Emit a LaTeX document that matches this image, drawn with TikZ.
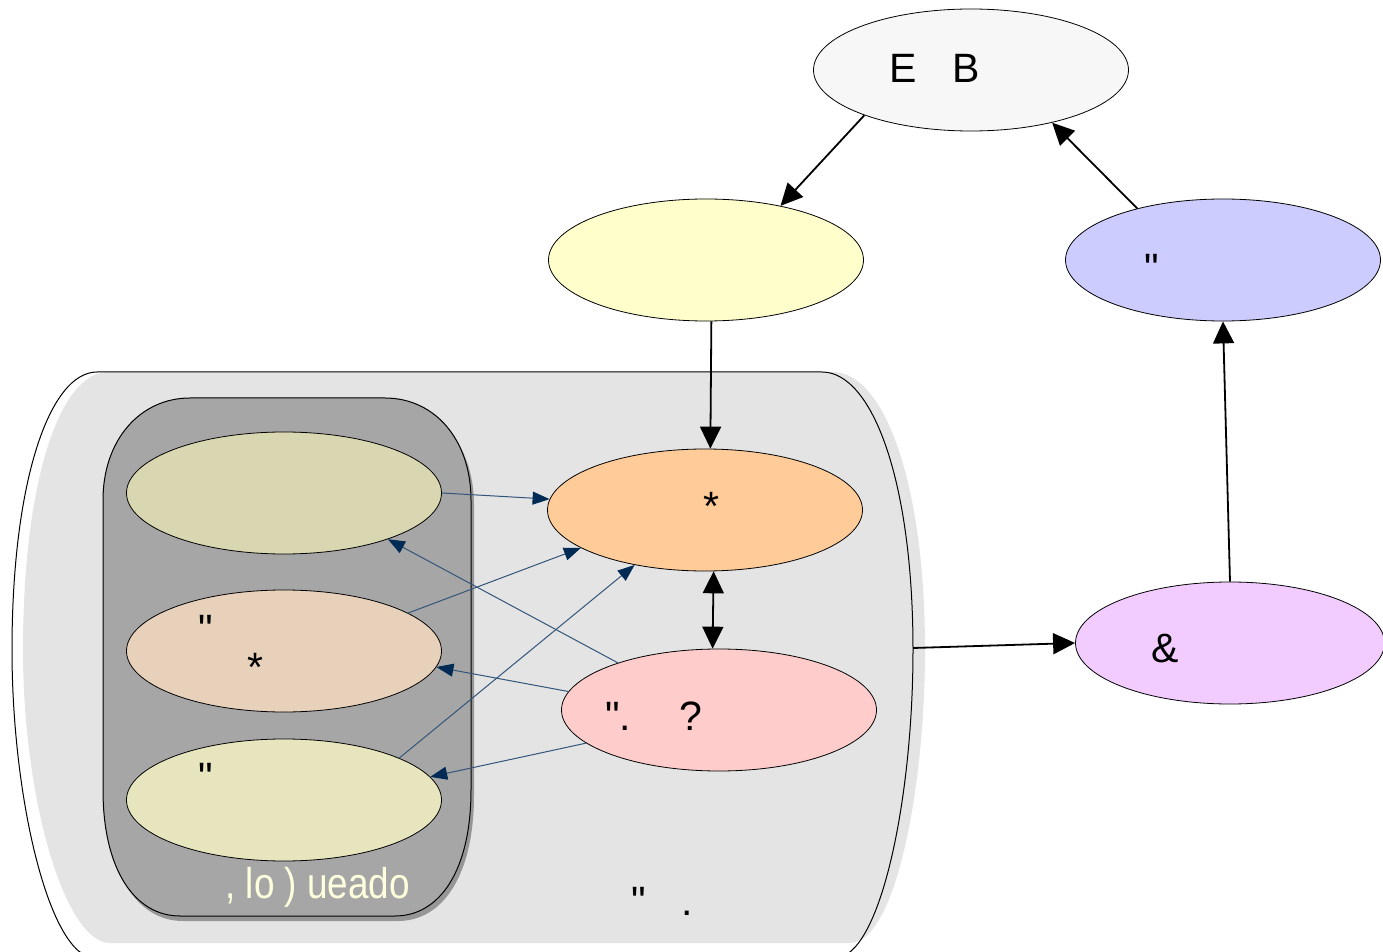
\documentclass[tikz,border=0pt]{standalone}
\usepackage{fontspec}
\setmainfont{Liberation Sans}
\usetikzlibrary{shapes.geometric,arrows.meta}

\definecolor{cfondo}{HTML}{E4E4E4}
\definecolor{csombra}{HTML}{969696}
\definecolor{cbloq}{HTML}{A6A6A6}
\definecolor{cgris}{HTML}{F7F7F7}
\definecolor{camarillo}{HTML}{FFFFCC}
\definecolor{cazul}{HTML}{CCCCFF}
\definecolor{cnaranja}{HTML}{FFCC99}
\definecolor{crosa}{HTML}{FFCCCC}
\definecolor{clila}{HTML}{F2CCFF}
\definecolor{cbuno}{HTML}{D9D7B1}
\definecolor{cbdos}{HTML}{E8D1BA}
\definecolor{cbtres}{HTML}{E6E5BD}
\definecolor{lineaazul}{HTML}{34557A}
\definecolor{puntaazul}{HTML}{002B55}
\definecolor{crema}{HTML}{FFFFDE}

\begin{document}
\begin{tikzpicture}[x=0.5pt,y=-0.5pt,
    estado/.style={ellipse,draw,line width=0.4pt,inner sep=0pt,minimum width=157.5pt,minimum height=61pt},
    txt/.style={anchor=base west,inner sep=0pt,font=\fontsize{20.5}{24}\selectfont},
    flecha/.style={line width=0.9pt,-{Triangle[length=11pt,width=10.5pt]}},
    doble/.style={line width=0.9pt,{Triangle[length=11pt,width=10.5pt]}-{Triangle[length=11pt,width=10.5pt]}},
    fina/.style={line width=0.5pt,draw=lineaazul,-{Triangle[length=8.5pt,width=6.5pt,color=puntaazul]}}]

    \useasboundingbox (0,0) rectangle (1383,952);

    % contenedor grande
    \fill [cfondo] (108,372) -- (833,372) .. controls (883,372) and (925,480) .. (925,650)
        .. controls (925,790) and (895,943) .. (850,943) -- (110,943)
        .. controls (65,943) and (23,800) .. (23,650) .. controls (23,480) and (60,372) .. (108,372) -- cycle;
    \draw [line width=0.5pt] (97,372) -- (822,372) .. controls (872,372) and (913,480) .. (913,650)
        .. controls (913,800) and (880,958) .. (835,958) -- (95,958)
        .. controls (50,958) and (12,800) .. (12,650) .. controls (12,480) and (50,372) .. (97,372) -- cycle;
    \coordinate (cont) at (913,648);

    % bloqueado
    \fill [csombra] (193,403) -- (388,403) .. controls (438,403) and (474,445) .. (474,505) -- (474,795)
        .. controls (474,875) and (443,921) .. (398,921) -- (183,921)
        .. controls (138,921) and (106,875) .. (106,795) -- (106,505) .. controls (106,445) and (143,403) .. (193,403) -- cycle;
    \draw [fill=cbloq, line width=0.5pt] (190,398) -- (385,398) .. controls (435,398) and (471,440) .. (471,500) -- (471,790)
        .. controls (471,870) and (440,916) .. (395,916) -- (180,916)
        .. controls (135,916) and (103,870) .. (103,790) -- (103,500) .. controls (103,440) and (140,398) .. (190,398) -- cycle;
    \node [txt, text=crema] (tbloq) at (225,898) {\scalebox{0.9}[1.05]{, lo ) ueado}};

    % estados
    \node [estado, fill=cgris] (eb) at (971,70) {};
    \node [estado, fill=camarillo] (listo) at (706,260) {};
    \node [estado, fill=cazul] (azul) at (1223,260) {};
    \node [estado, fill=cnaranja] (ejec) at (705,510) {};
    \node [estado, fill=crosa] (rosa) at (719,710) {};
    \node [estado, fill=clila, minimum width=154.5pt] (lila) at (1230,643) {};
    \node [estado, fill=cbuno] (b1) at (284,493) {};
    \node [estado, fill=cbdos] (b2) at (284,651) {};
    \node [estado, fill=cbtres] (b3) at (284,800) {};

    % textos
    \node [txt] (teb) at (889,83) {E\hspace{18pt}B};
    \node [txt] (tazul) at (1144,283) {\textquotedbl};
    \node [txt] (tejec) at (703,521) {*};
    \node [txt] (trosa) at (605,730) {\textquotedbl.\hspace{24pt}?};
    \node [txt] (tlila) at (1151,662) {\&};
    \node [txt] (tbdos) at (198,643) {\textquotedbl};
    \node [txt] (tbdosb) at (247,681) {*};
    \node [txt] (tbtres) at (198,791) {\textquotedbl};
    \node [txt] (tcont) at (631,915) {\textquotedbl\hspace{17.7pt}.};

    % flechas
    \draw [flecha] (eb.203) -- (listo.36);
    \draw [flecha] (azul.149) -- (eb.327);
    \draw [flecha] (listo.-85) -- (ejec.85);
    \draw [doble] (ejec.-82) -- (rosa.96);
    \draw [flecha] (lila.north) -- (azul.south);
    \draw [flecha] (cont) -- (lila.west);

    \draw [fina] (b1.east) -- (ejec.176);
    \draw [fina] (b2.17) -- (ejec.197);
    \draw [fina] (b3.20) -- (ejec.218);
    \draw [fina] (rosa.155) -- (b1.336);
    \draw [fina] (rosa.173) -- (b2.354);
    \draw [fina] (rosa.194) -- (b3.9);
\end{tikzpicture}
\end{document}
